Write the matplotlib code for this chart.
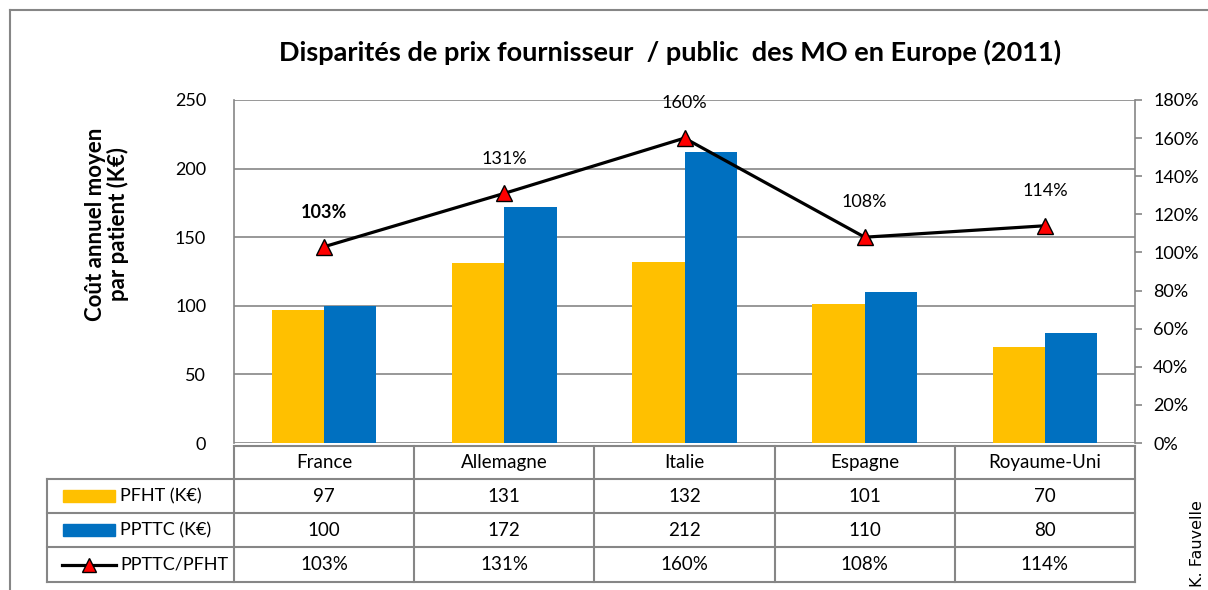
import matplotlib
matplotlib.use("Agg")
import matplotlib.pyplot as plt
from matplotlib.patches import Rectangle
import numpy as np

categories = ["France", "Allemagne", "Italie", "Espagne", "Royaume-Uni"]
pfht = [97, 131, 132, 101, 70]
ppttc = [100, 172, 212, 110, 80]
ratio = [1.03, 1.31, 1.60, 1.08, 1.14]
series_names = ["PFHT (K€)", "PPTTC (K€)", "PPTTC/PFHT"]
left_ticks = [0, 50, 100, 150, 200, 250]
right_ticks = [0.0, 0.2, 0.4, 0.6, 0.8, 1.0, 1.2, 1.4, 1.6, 1.8]

YELLOW = "#FFC000"
BLUE = "#0070C0"
GRAY = "#868686"
FONT = "Lato"
FS = 13.5

plt.rcParams["font.family"] = [FONT, "DejaVu Sans"]

W, H = 1208, 590
fig = plt.figure(figsize=(W / 100, H / 100), dpi=100)

def px(x0, y0, x1, y1):
    return [x0 / W, 1 - y1 / H, (x1 - x0) / W, (y1 - y0) / H]

ov = fig.add_axes([0, 0, 1, 1], zorder=0)
ov.set_xlim(0, W)
ov.set_ylim(H, 0)
ov.axis("off")

ax = fig.add_axes(px(234, 100, 1135, 443), zorder=2)
ax.patch.set_alpha(0)
x = np.arange(len(categories))
bw = 0.29
ax.bar(x - bw / 2, pfht, bw, color=YELLOW, zorder=3)
ax.bar(x + bw / 2, ppttc, bw, color=BLUE, zorder=3)
ax.set_xlim(-0.5, len(categories) - 0.5)
ax.set_ylim(0, 250)
ax.set_yticks(left_ticks)
ax.set_yticklabels([str(t) for t in left_ticks], fontsize=13)
ax.tick_params(axis="y", length=0, pad=20)
ax.set_xticks([])
ax.grid(axis="y", color=GRAY, linewidth=1.2, zorder=0)
for s in ["top", "right", "bottom"]:
    ax.spines[s].set_visible(False)
ax.spines["left"].set_color(GRAY)
ax.spines["left"].set_linewidth(1.2)

ax2 = ax.twinx()
ax2.set_ylim(0, 1.8)
ax2.set_yticks(right_ticks)
ax2.set_yticklabels([f"{int(round(t*100))}%" for t in right_ticks], fontsize=13)
ax2.tick_params(axis="y", length=5, color=GRAY, width=1.2, pad=8)
for s in ["top", "left", "bottom"]:
    ax2.spines[s].set_visible(False)
ax2.spines["right"].set_color(GRAY)
ax2.spines["right"].set_linewidth(1.2)
ax2.plot(x, ratio, color="black", linewidth=2.3, marker="^", markersize=12,
         markerfacecolor="red", markeredgecolor="black", markeredgewidth=1.0, zorder=5,
         clip_on=False)
for i, r in enumerate(ratio):
    ax2.annotate(f"{int(round(r*100))}%", (x[i], r), xytext=(0, 25), textcoords="offset points",
                 ha="center", va="center", fontsize=13,
                 fontweight="bold" if i == 0 else "normal")

fig.text(670 / W, 1 - 52 / H, "Disparités de prix fournisseur  / public  des MO en Europe (2011)",
         ha="center", va="center", fontsize=19.5, fontweight="bold")
fig.text(107 / W, 1 - 224 / H, "Coût annuel moyen\npar patient (K€)", rotation=90,
         ha="center", va="center", fontsize=16, fontweight="bold", multialignment="center",
         linespacing=1.05)

ov.plot([10, 10], [10, H + 5], color=GRAY, lw=1.5)
ov.plot([10, W + 5], [10, 10], color=GRAY, lw=1.5)

col_edges = np.linspace(234, 1135, len(categories) + 1)
row_edges = [446, 479, 513, 547, 582]
lc = GRAY
lw = 1.5
ov.plot([234, 1135], [row_edges[0], row_edges[0]], color=lc, lw=lw)
for ys in row_edges[1:]:
    ov.plot([47, 1135], [ys, ys], color=lc, lw=lw)
for xe in col_edges:
    ov.plot([xe, xe], [row_edges[0], row_edges[-1]], color=lc, lw=lw)
ov.plot([47, 47], [row_edges[1], row_edges[-1]], color=lc, lw=lw)

centers = (col_edges[:-1] + col_edges[1:]) / 2
rc = [(row_edges[i] + row_edges[i + 1]) / 2 for i in range(4)]
for j, c in enumerate(categories):
    ov.text(centers[j], rc[0], c, ha="center", va="center", fontsize=FS)
    ov.text(centers[j], rc[1], str(pfht[j]), ha="center", va="center", fontsize=FS)
    ov.text(centers[j], rc[2], str(ppttc[j]), ha="center", va="center", fontsize=FS)
    ov.text(centers[j], rc[3], f"{int(round(ratio[j]*100))}%", ha="center", va="center", fontsize=FS)

ov.add_patch(Rectangle((63, rc[1] - 6), 52, 12, color=YELLOW))
ov.add_patch(Rectangle((63, rc[2] - 6), 52, 12, color=BLUE))
ov.plot([62, 116], [rc[3], rc[3]], color="black", lw=2.3)
ov.plot([89], [rc[3]], marker="^", markersize=10, markerfacecolor="red",
        markeredgecolor="black", markeredgewidth=1.0)
for i, name in enumerate(series_names):
    ov.text(120, rc[i + 1], name, ha="left", va="center", fontsize=13)

fig.text(1198 / W, 1 - 587 / H, "K. Fauvelle", rotation=90, ha="center", va="bottom",
         fontsize=11.5, family="DejaVu Sans")

fig.savefig("out.png", dpi=100)
